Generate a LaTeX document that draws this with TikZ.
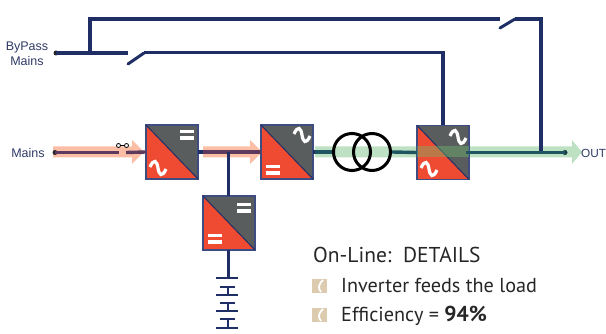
\documentclass[tikz,border=0pt]{standalone}
\usepackage{fontspec}
\setmainfont{Liberation Sans}
\newfontfamily\detailfont{PT Sans}
\definecolor{navy}{HTML}{1F2F66}
\definecolor{lbl}{HTML}{2F3A66}
\definecolor{rim}{HTML}{3E4C82}
\definecolor{gr}{HTML}{5A5D5E}
\definecolor{rd}{HTML}{EF4B33}
\definecolor{pinkfl}{HTML}{FCBFA5}
\definecolor{greenfl}{HTML}{BEE1C3}
\definecolor{pinkln}{HTML}{5F3A5F}
\definecolor{greenln}{HTML}{1F5560}
\definecolor{tan}{HTML}{DCCBAE}
\definecolor{ovgreen}{HTML}{6EBE6E}
\tikzset{
  conv/.style={minimum width=52pt,minimum height=54pt,inner sep=0pt,outer sep=0pt},
  bus/.style={navy,line width=3.6pt},
  thin bus/.style={navy,line width=3pt},
  dot/.style={circle,fill=#1,inner sep=0pt,minimum size=5pt},
  lab/.style={text=lbl,font=\fontsize{12.5}{14.5}\selectfont,align=center,inner sep=0pt},
  det/.style={anchor=base west,inner sep=0pt,text=black!85},
  tilde/.style={white,line width=3.2pt},
  xfmr/.style={circle,draw=black,line width=3pt,minimum size=37pt,inner sep=0pt},
  sw/.style={circle,draw=black,fill=white,line width=.8pt,inner sep=0pt,minimum size=4pt},
}
\newcommand{\eqsym}[1]{\begin{scope}[shift={(#1)}]
  \fill[white] (-7,-5) rectangle (7,-1.5);
  \fill[white] (-7,1.5) rectangle (7,5);
\end{scope}}
\newcommand{\tilsym}[1]{\begin{scope}[shift={(#1)}]
  \draw[tilde] (-8,-1) .. controls (-4,-10) and (-1,-7) .. (0,0) .. controls (1,7) and (4,10) .. (8,1);
\end{scope}}
\newcommand{\conv}[2]{%
  \node[conv] (#1) at (#2) {};
  \fill[gr] (#1.north west) -| (#1.south east) -- cycle;
  \fill[rd] (#1.north west) |- (#1.south east) -- cycle;
  \draw[rim,line width=1.1pt] (#1.north west) rectangle (#1.south east);
  \draw[navy,line width=1pt] (#1.north west) -- (#1.south east);
}
\newcommand{\bul}[2]{%
  \fill[tan] (#1,#2) rectangle ++(15,14);
  \draw[white,line width=1.8pt] (#1+11,#2+1) .. controls (#1+6,#2+6) and (#1+6,#2+9) .. (#1+9,#2+13);
}
\newcommand{\flow}[5]{%
  \fill[#1] (#2,#5-5.5) -- (#4,#5-5.5) -- (#4,#5-12) -- (#3,#5) -- (#4,#5+12) -- (#4,#5+5.5) -- (#2,#5+5.5) -- cycle;
}
\begin{document}
\begin{tikzpicture}[x=1pt,y=-1pt]
\useasboundingbox (0,0) rectangle (606,334);
% flows
\flow{pinkfl}{53}{144}{132}{152}
\flow{pinkfl}{203}{262}{250}{152}
\flow{greenfl}{315}{582}{572}{152}
% converters
\conv{a}{172,152}
\conv{b}{287,152}
\conv{c}{443,152.5}
\conv{d}{229,223}
\eqsym{187,135}\tilsym{158,168}
\tilsym{302,135}\eqsym{273,170}
\tilsym{458,137}\tilsym{429,169}
\eqsym{244,208}\eqsym{215,239}
% green flow across inverter
\fill[ovgreen,opacity=.4] (c.west |- 0,146.5) rectangle (c.east |- 0,157.5);
% named points
\node[dot=black!85] (bp) at (56,53) {};
\node[dot=black!85] (mn) at (55,152.5) {};
\node[dot=greenln!70!black] (out) at (565,152.5) {};
\coordinate (j1) at (90,53);
\coordinate (s1a) at (128,53);
\coordinate (s1b) at (128,64);
\coordinate (s1c) at (144,53);
\coordinate (k1) at (443,53);
\coordinate (j2) at (90,19);
\coordinate (s2a) at (500,19);
\coordinate (s2b) at (500,28);
\coordinate (s2c) at (515,19);
\coordinate (k2) at (541,19);
\coordinate (j3) at (541,152.5);
\coordinate (j4) at (228.5,152);
\coordinate (g1) at (119,152.5);
\coordinate (g2) at (126,152.5);
% bypass lines
\draw[bus] (bp.center) -- (s1a);
\draw[bus,line width=4pt] (j1) -- (j2) -- (s2a);
\draw[bus,line cap=round,line width=3pt] (s2b) -- (s2c);
\draw[bus,line width=4pt] (s2c) -- (k2) -- (j3);
\draw[bus,line cap=round,line width=3pt] (s1b) -- (s1c);
\draw[thin bus] (s1c) -- (k1);
\draw[bus,line width=4pt] (k1) ++(0,-1.5) -- (c.north -| k1);
% main lines
\draw[line width=3.4pt,pinkln] (mn.center) -- (g1);
\draw[line width=3.4pt,pinkln] (g2) -- (a.west);
\draw[bus] (a.east) -- (203,152);
\draw[line width=3.4pt,pinkln] (203,152) -- (b.west);
\draw[thin bus] (j4) -- (d.north -| j4);
\draw[bus] (b.east) -- (315,152);
\draw[line width=3.4pt,greenln] (315,152) -- (333,152);
\draw[line width=3.4pt,greenln] (392,152) -- (c.west);
\draw[line width=3.4pt,greenln] (466,152.5) -- (out.center);
% transformer
\node[xfmr] (t1) at (352,152) {};
\node[xfmr] (t2) at (372,152) {};
% small switch
\node[sw] (w1) at (118.5,145.5) {};
\node[sw] (w2) at (126.5,145.5) {};
\draw[black,line width=.9pt] (w1) -- (w2);
% battery
\coordinate (b0) at (228.5,278);
\draw[bus] (d.south -| b0) -- (b0);
\foreach \y in {278,295,311,328} \draw[navy,line width=2pt] (216,\y) -- (238,\y);
\foreach \y in {287,303,319} \draw[navy,line width=2pt] (220,\y) -- (235,\y);
\draw[navy,line width=2.4pt] (228,287) -- (228,295);
\draw[navy,line width=2.4pt] (228,303) -- (228,311);
\draw[navy,line width=2.4pt] (228,319) -- (228,328);
% labels
\node[lab] (lbp) at (27,54) {ByPass\\Mains};
\node[lab] (lmn) at (28,153) {Mains};
\node[lab,anchor=west,font=\fontsize{11.8}{14}\selectfont] (lout) at (581,153) {OUT};
\node[det,font=\detailfont\fontsize{21.5}{24}\selectfont] (h) at (313,262) {On-Line:\ \ DETAILS};
\bul{312}{279}
\node[det,font=\detailfont\fontsize{20.2}{22}\selectfont] (i1) at (341,293) {Inverter feeds the load};
\bul{312}{308}
\node[det,font=\detailfont\fontsize{20.2}{22}\selectfont] (i2) at (341,321) {Efficiency = {\fontsize{21.5}{22}\selectfont\textbf{94\%}}};
\end{tikzpicture}
\end{document}
